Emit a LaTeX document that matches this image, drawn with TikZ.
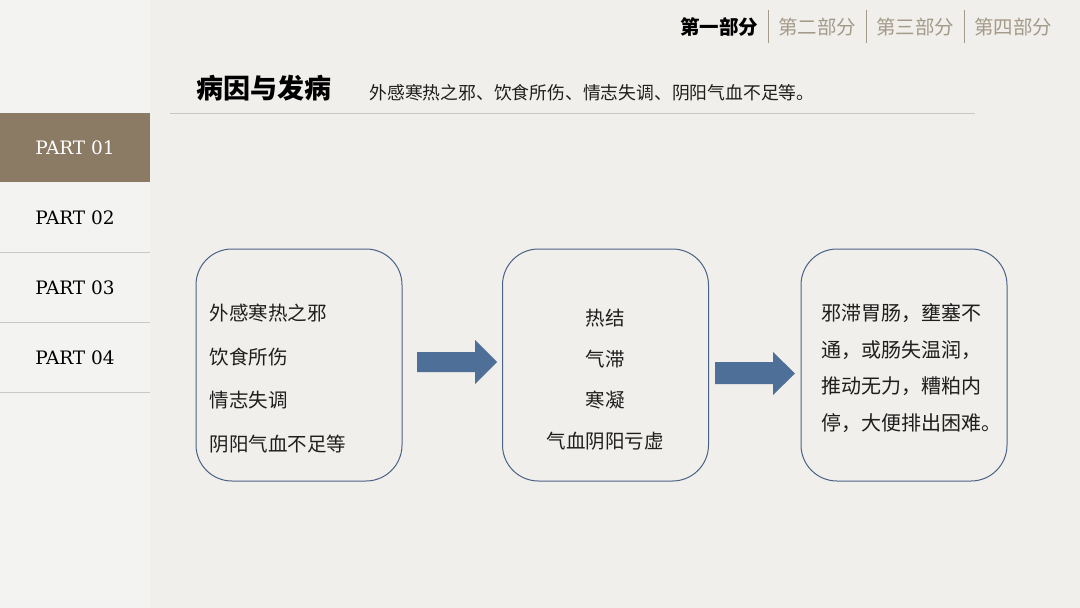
\documentclass[tikz,border=0pt]{standalone}
\usepackage{fontspec}
\setmainfont{DejaVu Serif}
\newfontfamily\cjk{Noto Sans CJK SC}
\definecolor{bgmain}{HTML}{F1EFEB}
\definecolor{bgside}{HTML}{F3F3F2}
\definecolor{brownbox}{HTML}{8B7B64}
\definecolor{navgray}{HTML}{A39A8A}
\definecolor{sepgray}{HTML}{C8C8C8}
\definecolor{boxline}{HTML}{4A6285}
\definecolor{arrowblue}{HTML}{4E6F98}
\definecolor{txt}{HTML}{1E1E1E}
\begin{document}
\begin{tikzpicture}[x=1pt,y=-1pt,
  part/.style={font=\fontsize{18.5}{18.5}\selectfont, text=black},
  navlbl/.style={font=\cjk\fontsize{19.5}{19.5}\selectfont, text=navgray},
  flowbox/.style={draw=boxline, line width=1pt, rounded corners=36pt, minimum width=206pt, minimum height=232pt, fill=bgmain},
  boxtext/.style={font=\cjk\fontsize{19.5}{19.5}\selectfont, text=txt},
  blockarrow/.style={fill=arrowblue, draw=none}
]
\useasboundingbox (0,0) rectangle (1080,608);
% backgrounds
\fill[bgmain] (0,0) rectangle (1080,608);
\fill[bgside] (0,0) rectangle (150,608);
% sidebar
\fill[brownbox] (0,113) rectangle (150,182);
\node[part, text=white] (p1) at (75,147.5) {PART 01};
\node[part] (p2) at (75,218) {PART 02};
\node[part] (p3) at (75,288) {PART 03};
\node[part] (p4) at (75,358) {PART 04};
\draw[sepgray, line width=0.8pt] (0,252) -- (150,252);
\draw[sepgray, line width=0.8pt] (0,322) -- (150,322);
\draw[sepgray, line width=0.8pt] (0,392) -- (150,392);
% top navigation
\node[navlbl, text=black, font=\cjk\bfseries\fontsize{19.5}{19.5}\selectfont] (n1) at (719,27) {第一部分};
\node[navlbl] (n2) at (817,27) {第二部分};
\node[navlbl] (n3) at (915,27) {第三部分};
\node[navlbl] (n4) at (1013,27) {第四部分};
\draw[navgray, line width=0.8pt] (768,10) -- (768,43);
\draw[navgray, line width=0.8pt] (866,10) -- (866,43);
\draw[navgray, line width=0.8pt] (964,10) -- (964,43);
% title
\node[anchor=west, font=\cjk\bfseries\fontsize{27}{27}\selectfont, text=black] (title) at (193,88) {病因与发病};
\node[anchor=west, font=\cjk\fontsize{17.8}{17.8}\selectfont, text=txt] (sub) at (366,93) {外感寒热之邪、饮食所伤、情志失调、阴阳气血不足等。};
\draw[sepgray, line width=1pt] (170,113) -- (975,113);
% boxes
\node[flowbox] (b1) at (299,365) {};
\node[flowbox] (b2) at (605.5,365) {};
\node[flowbox] (b3) at (904,365) {};
\node[boxtext, anchor=west, align=left, font=\cjk\fontsize{19.5}{43.7}\selectfont] (t1) at (206,378.5)
  {外感寒热之邪\\饮食所伤\\情志失调\\阴阳气血不足等};
\node[boxtext, align=center, font=\cjk\fontsize{19.5}{41}\selectfont] (t2) at (605,379.5)
  {热结\\气滞\\寒凝\\气血阴阳亏虚};
\node[boxtext, anchor=west, align=left, font=\cjk\fontsize{20}{36.7}\selectfont] (t3) at (818,368)
  {邪滞胃肠，壅塞不\\通，或肠失温润，\\推动无力，糟粕内\\停，大便排出困难。};
% arrows
\fill[blockarrow] (417,352) -- (475,352) -- (475,340) -- (497,362) -- (475,384) -- (475,372) -- (417,372) -- cycle;
\fill[blockarrow] (715,362) -- (773,362) -- (773,352) -- (795,373.5) -- (773,395) -- (773,384) -- (715,384) -- cycle;
\end{tikzpicture}
\end{document}
